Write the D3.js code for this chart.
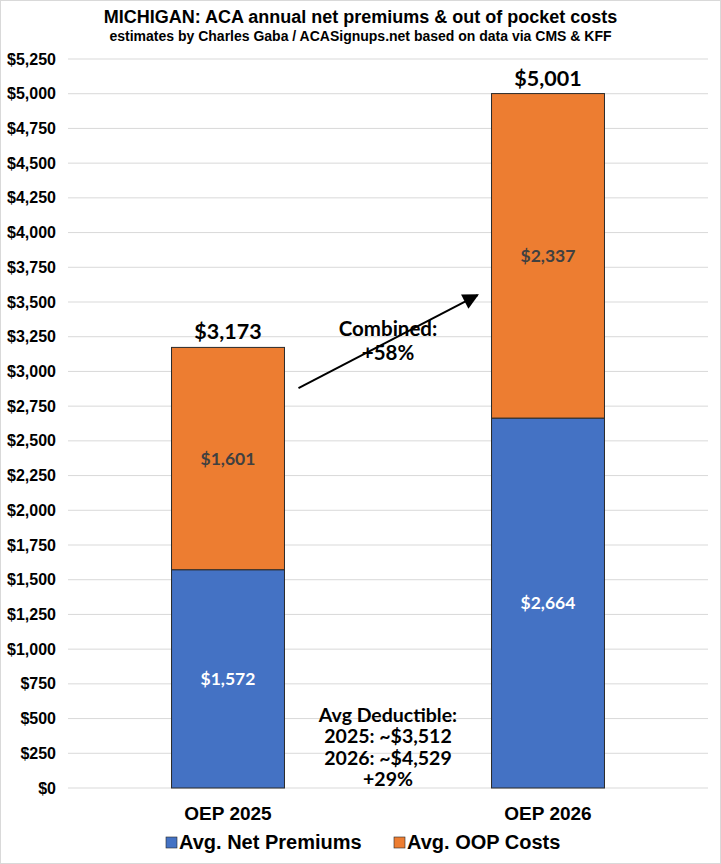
<!DOCTYPE html>
<html>
<head>
<meta charset="utf-8">
<script src="https://cdn.jsdelivr.net/npm/d3@7"></script>
<style>
  body { margin: 0; background: #fff; }
  svg { display: block; }
  .narrow { font-family: "Liberation Sans Narrow", "Arial Narrow", "Liberation Sans", Arial, sans-serif; font-weight: bold; }
  .cal { font-family: Lato, "Open Sans", sans-serif; font-weight: bold; }
</style>
</head>
<body>
<script>
// data
var categories = ["OEP 2025", "OEP 2026"];
var netPremiums = [1572, 2664];
var oopCosts = [1601, 2337];
var totals = ["$3,173", "$5,001"];
var seriesNames = ["Avg. Net Premiums", "Avg. OOP Costs"];
var seriesColors = ["#4472C4", "#ED7D31"];
var yTicks = d3.range(0, 5251, 250);
var combinedLines = ["Combined:", "+58%"];
var deductibleLines = ["Avg Deductible:", "2025: ~$3,512", "2026: ~$4,529", "+29%"];

var W = 721, H = 864;
var margin = {left: 68, right: 13, top: 59, bottom: 76};

var svg = d3.select("body").append("svg")
  .attr("width", W)
  .attr("height", H);

// border
svg.append("rect")
  .attr("x", 0.5).attr("y", 0.5)
  .attr("width", W - 1).attr("height", H - 1)
  .attr("fill", "#fff")
  .attr("stroke", "#d9d9d9");

var x = d3.scaleBand()
  .domain(categories)
  .range([margin.left, W - margin.right])
  .paddingInner(0.647)
  .paddingOuter(0.3235);

var y = d3.scaleLinear()
  .domain([0, 5250])
  .range([H - margin.bottom, margin.top]);

// gridlines
svg.append("g").selectAll("line")
  .data(yTicks)
  .enter().append("line")
    .attr("x1", margin.left)
    .attr("x2", W - margin.right)
    .attr("y1", function(d) { return y(d); })
    .attr("y2", function(d) { return y(d); })
    .attr("stroke", "#d9d9d9")
    .attr("stroke-width", 1);

// y axis labels
var yAxis = svg.append("g")
  .attr("class", "narrow")
  .attr("transform", "translate(" + (margin.left - 12) + ",0)")
  .call(d3.axisLeft(y).tickValues(yTicks).tickSize(0).tickPadding(0)
    .tickFormat(function(d) { return "$" + d3.format(",")(d); }));
yAxis.select(".domain").remove();
yAxis.selectAll("text")
  .attr("font-size", 16)
  .attr("font-family", null)
  .attr("fill", "#000");

// stacked bars
var rows = categories.map(function(c, i) {
  return {cat: c, net: netPremiums[i], oop: oopCosts[i], total: totals[i]};
});
var stack = d3.stack().keys(["net", "oop"])(rows);

var layers = svg.append("g").selectAll("g")
  .data(stack)
  .enter().append("g")
    .attr("fill", function(d, i) { return seriesColors[i]; });

layers.selectAll("rect")
  .data(function(d) { return d; })
  .enter().append("rect")
    .attr("x", function(d) { return x(d.data.cat); })
    .attr("width", x.bandwidth())
    .attr("y", function(d) { return y(d[1]); })
    .attr("height", function(d) { return y(d[0]) - y(d[1]); })
    .attr("stroke", "#2a2a2a")
    .attr("stroke-width", 1);

// segment labels
stack.forEach(function(layer, li) {
  svg.append("g").selectAll("text")
    .data(layer)
    .enter().append("text")
      .attr("class", "cal")
      .attr("x", function(d) { return x(d.data.cat) + x.bandwidth() / 2; })
      .attr("y", function(d) { return y((d[0] + d[1]) / 2); })
      .attr("dy", "0.35em")
      .attr("text-anchor", "middle")
      .attr("font-size", 17.5)
      .attr("fill", li === 0 ? "#ffffff" : "#404040")
      .text(function(d) { return "$" + d3.format(",")(d[1] - d[0]); });
});

// totals
svg.append("g").selectAll("text")
  .data(rows)
  .enter().append("text")
    .attr("class", "cal")
    .attr("x", function(d) { return x(d.cat) + x.bandwidth() / 2; })
    .attr("y", function(d) { return y(d.net + d.oop) - 8; })
    .attr("text-anchor", "middle")
    .attr("font-size", 21.5)
    .attr("fill", "#000")
    .text(function(d) { return d.total; });

// arrow
var defs = svg.append("defs");
defs.append("marker")
  .attr("id", "arrowhead")
  .attr("viewBox", "0 0 10 10")
  .attr("refX", 9).attr("refY", 5)
  .attr("markerWidth", 22).attr("markerHeight", 16)
  .attr("orient", "auto")
  .attr("markerUnits", "userSpaceOnUse")
  .append("path")
    .attr("d", "M0,0 L10,5 L0,10 z")
    .attr("fill", "#000");

var x0 = x(categories[0]) + x.bandwidth() + 14;
var x1 = x(categories[1]) - 14;
svg.append("line")
  .attr("x1", x0).attr("y1", y(2880))
  .attr("x2", x1).attr("y2", y(3550))
  .attr("stroke", "#000")
  .attr("stroke-width", 2)
  .attr("marker-end", "url(#arrowhead)");

var midX = (x(categories[0]) + x.bandwidth() + x(categories[1])) / 2;
svg.append("g").selectAll("text")
  .data(combinedLines)
  .enter().append("text")
    .attr("class", "cal")
    .attr("x", midX)
    .attr("y", function(d, i) { return y(3300) + 6 + i * 24; })
    .attr("text-anchor", "middle")
    .attr("font-size", 20.5)
    .attr("fill", "#000")
    .text(function(d) { return d; });

// deductible note
svg.append("g").selectAll("text")
  .data(deductibleLines)
  .enter().append("text")
    .attr("class", "cal")
    .attr("x", midX)
    .attr("y", function(d, i) { return y(475) + i * 21.3; })
    .attr("text-anchor", "middle")
    .attr("font-size", 19.5)
    .attr("fill", "#000")
    .text(function(d) { return d; });

// x axis labels
svg.append("g").selectAll("text")
  .data(categories)
  .enter().append("text")
    .attr("class", "narrow")
    .attr("x", function(d) { return x(d) + x.bandwidth() / 2; })
    .attr("y", H - margin.bottom + 32)
    .attr("text-anchor", "middle")
    .attr("font-size", 19)
    .attr("fill", "#000")
    .text(function(d) { return d; });

// legend
var legendX = [166, 394];
var legend = svg.append("g").attr("class", "narrow");
seriesNames.forEach(function(name, i) {
  legend.append("rect")
    .attr("x", legendX[i]).attr("y", 837)
    .attr("width", 11).attr("height", 11)
    .attr("fill", seriesColors[i])
    .attr("stroke", "#2a2a2a").attr("stroke-width", 0.6);
  legend.append("text")
    .attr("x", legendX[i] + 13).attr("y", 849)
    .attr("font-size", 20)
    .attr("fill", "#000")
    .text(name);
});

// titles
svg.append("text")
  .attr("class", "narrow")
  .attr("x", W / 2).attr("y", 23)
  .attr("text-anchor", "middle")
  .attr("font-size", 18)
  .text("MICHIGAN: ACA annual net premiums & out of pocket costs");
svg.append("text")
  .attr("class", "narrow")
  .attr("x", W / 2).attr("y", 41)
  .attr("text-anchor", "middle")
  .attr("font-size", 14)
  .text("estimates by Charles Gaba / ACASignups.net based on data via CMS & KFF");
</script>
</body>
</html>
